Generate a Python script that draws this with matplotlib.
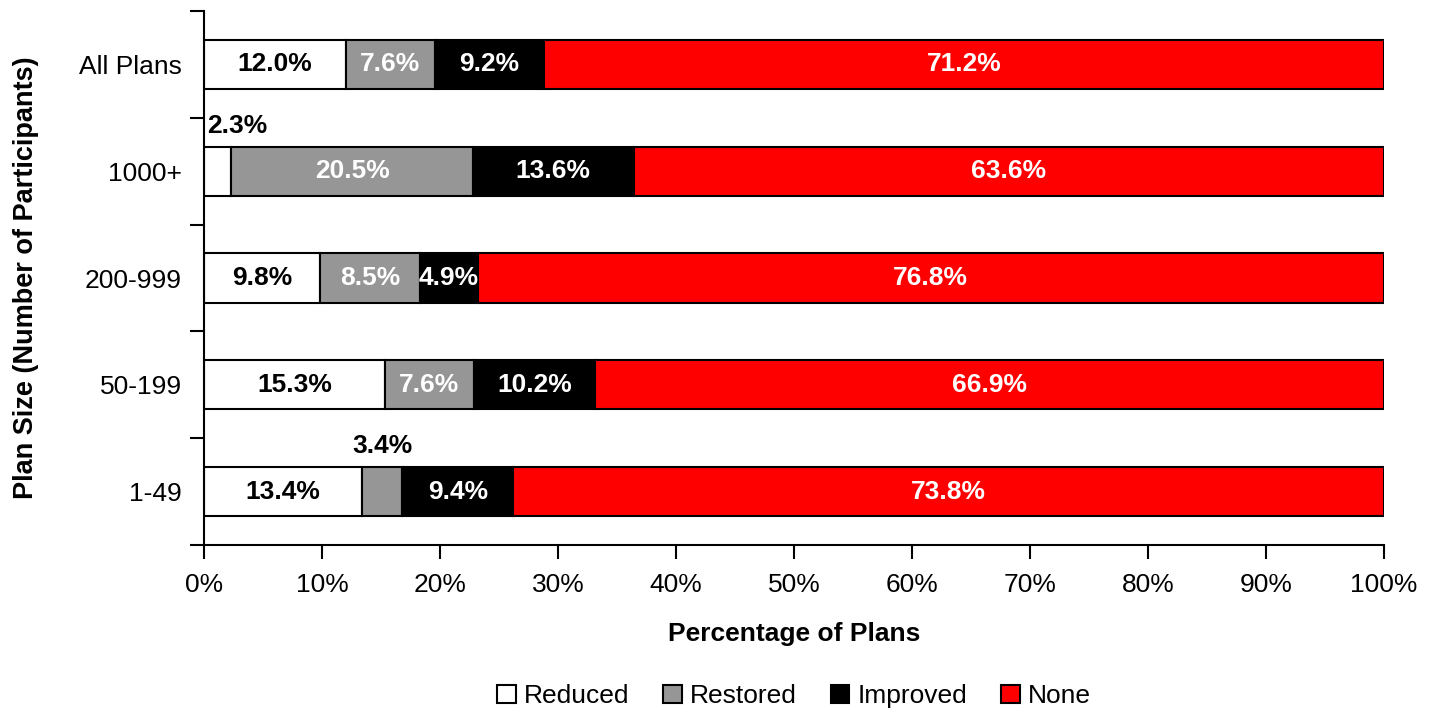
import matplotlib.pyplot as plt
import numpy as np

plt.rcParams['font.family'] = ['Liberation Sans', 'DejaVu Sans']

groups = ["1-49", "50-199", "200-999", "1000+", "All Plans"]
reduced = [13.4, 15.3, 9.8, 2.3, 12.0]
restored = [3.4, 7.6, 8.5, 20.5, 7.6]
improved = [9.4, 10.2, 4.9, 13.6, 9.2]
none = [73.8, 66.9, 76.8, 63.6, 71.2]

series = [("Reduced", reduced, "white", "black"),
          ("Restored", restored, "#969696", "white"),
          ("Improved", improved, "black", "white"),
          ("None", none, "#ff0000", "white")]

# small segments get their label above the bar
outside = {("Reduced", "1000+"), ("Restored", "1-49")}

fs = 19
fig = plt.figure(figsize=(14.34, 7.11), dpi=100)
ax = fig.add_axes([0.1423, 0.2335, 0.8228, 0.751])

y = np.arange(len(groups))
left = np.zeros(len(groups))
bar_h = 0.46
for name, vals, col, txtcol in series:
    vals = np.array(vals)
    ax.barh(y, vals, left=left, height=bar_h, color=col, edgecolor="black",
            linewidth=1.5, label=name)
    for i, v in enumerate(vals):
        lab = f"{v:.1f}%"
        if (name, groups[i]) in outside:
            if name == "Reduced":
                ax.text(0.3, y[i] + bar_h / 2 + 0.08, lab, ha="left", va="bottom",
                        fontsize=fs, fontweight="bold", color="black")
            else:
                ax.text(left[i] + v / 2, y[i] + bar_h / 2 + 0.08, lab, ha="center",
                        va="bottom", fontsize=fs, fontweight="bold", color="black")
        else:
            ax.text(left[i] + v / 2, y[i], lab, ha="center", va="center",
                    fontsize=fs, fontweight="bold", color=txtcol)
    left += vals

ax.set_xlim(0, 100)
ax.set_ylim(-0.5, len(groups) - 0.5)
ax.set_xticks(np.arange(0, 101, 10))
ax.set_xticklabels([f"{t}%" for t in range(0, 101, 10)], fontsize=fs)
ax.set_yticks(y)
ax.set_yticklabels(groups, fontsize=fs)
ax.set_yticks(np.arange(-0.5, len(groups), 1), minor=True)
ax.tick_params(axis="y", which="major", length=0, pad=16)
ax.tick_params(axis="y", which="minor", length=10, width=1.5)
ax.tick_params(axis="x", which="major", length=10, width=1.5, pad=10)

for s in ["top", "right"]:
    ax.spines[s].set_visible(False)
for s in ["left", "bottom"]:
    ax.spines[s].set_linewidth(1.5)

ax.set_xlabel("Percentage of Plans", fontsize=fs, fontweight="bold", labelpad=18)
ax.set_ylabel("Plan Size (Number of Participants)", fontsize=fs + 0.5, fontweight="bold",
              labelpad=29)

ax.legend(loc="lower center", bbox_to_anchor=(0.5, -0.35), ncol=4, frameon=False,
          fontsize=fs, handlelength=0.7, handleheight=0.7, handletextpad=0.3,
          columnspacing=1.3)

fig.savefig("out.png", dpi=100)
